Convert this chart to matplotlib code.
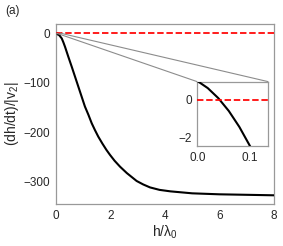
import matplotlib
matplotlib.use("Agg")
import matplotlib.pyplot as plt
from mpl_toolkits.axes_grid1.inset_locator import mark_inset

plt.rcParams['font.family'] = ['Liberation Sans', 'DejaVu Sans']
plt.rcParams['mathtext.fontset'] = 'custom'
plt.rcParams['mathtext.rm'] = 'Liberation Sans'
plt.rcParams['mathtext.it'] = 'Liberation Sans'

# data
h = [0, 0.02, 0.04, 0.06, 0.08, 0.10, 0.12, 0.16, 0.21, 0.27, 0.33, 0.45,
     0.58, 0.70, 0.82, 0.94, 1.06, 1.19, 1.31, 1.43, 1.55, 1.70, 1.85,
     1.98, 2.15, 2.35, 2.6, 2.96, 3.2, 3.45, 3.8, 4.2, 4.6, 5.0,
     5.5, 6.0, 7.0, 8.0]
v = [1, 0.62, 0.09, -0.59, -1.43, -2.43, -3.6, -6.5, -10, -18, -27, -47,
     -68, -88, -108, -128, -148, -165, -182, -196, -209, -223, -236,
     -246, -258, -270, -283, -299, -306, -312, -317, -320, -322, -324,
     -325, -326, -327, -328]

xticks_main = [0, 2, 4, 6, 8]
yticks_main = [0, -100, -200, -300]
xticks_in = [0.0, 0.1]
yticks_in = [0, -2]

fig = plt.figure(figsize=(2.83, 2.46), dpi=100)
ax = fig.add_axes([0.198, 0.172, 0.770, 0.730])
spine_c = '0.6'
text_c = '0.15'

ax.plot(h, v, color='black', lw=1.5, zorder=3)
ax.axhline(0, color='red', ls='--', lw=1.25, dashes=(3.7, 1.6), zorder=4)
ax.set_xlim(0, 8)
ax.set_ylim(-345, 19)
ax.set_xticks(xticks_main)
ax.set_yticks(yticks_main)
ax.set_xlabel(r'h/λ$_0$', fontsize=10, color=text_c, labelpad=1)
ax.set_ylabel(r'(dh/dt)/|v$_2$|', fontsize=10, color=text_c, labelpad=2)
ax.tick_params(length=0, labelsize=8.5, colors=text_c, pad=4.5)
ax.tick_params(axis='y', pad=4)
for s in ax.spines.values():
    s.set_color(spine_c)
    s.set_linewidth(0.9)

axin = fig.add_axes([0.697, 0.4065, 0.251, 0.2615])
axin.plot(h, v, color='black', lw=1.5, zorder=3)
axin.axhline(0, color='red', ls='--', lw=1.25, dashes=(3.7, 1.6), zorder=4)
axin.set_xlim(0, 0.135)
axin.set_ylim(-2.44, 0.96)
axin.set_xticks(xticks_in)
axin.set_xticklabels(['0.0', '0.1'])
axin.set_yticks(yticks_in)
axin.tick_params(length=0, labelsize=8.5, colors=text_c, pad=4)
for s in axin.spines.values():
    s.set_color(spine_c)
    s.set_linewidth(0.9)

mark_inset(ax, axin, loc1=1, loc2=2, fc='none', ec='0.55', lw=0.8)

fig.text(0.02, 0.955, '(a)', fontsize=8.5, color=text_c, va='center', ha='left')

fig.savefig('out.png', dpi=100)
